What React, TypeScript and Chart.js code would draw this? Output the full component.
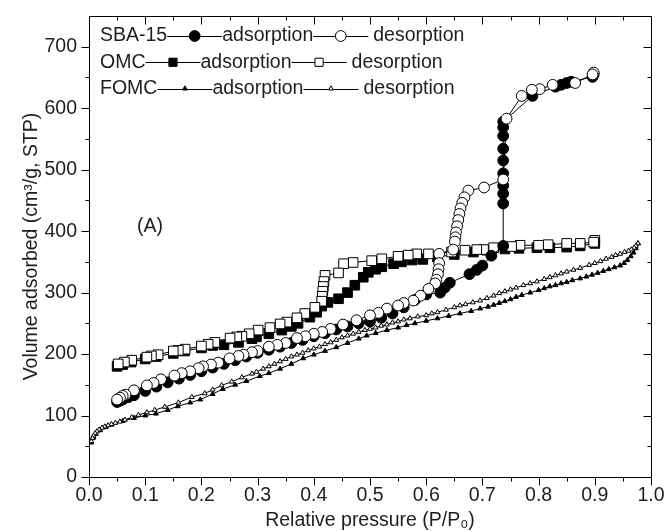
import React, { useEffect, useRef } from 'react';
import { Chart, registerables } from 'chart.js';
import { drawPoint } from 'chart.js/helpers';

Chart.register(...registerables);

const FONT = "'Liberation Sans', Arial, Helvetica, sans-serif";
const FS = 19.5;
const TXT = '#1e1e1e';

// ---------- data (P/P0, volume cm3/g STP) ----------
const sbaAdsP = [0.05,0.055,0.06,0.07,0.08,0.10,0.12,0.14,0.16,0.18,0.20,0.22,0.24,0.26,0.28,0.30,0.32,0.34,0.36,0.38,0.40,0.42,0.44,0.46,0.48,0.50,0.52,0.54,0.56,0.58,0.60,0.625,0.633,0.642,0.677,0.69,0.70,0.716,0.737,0.737,0.737,0.737,0.737,0.737,0.737,0.737,0.737,0.737,0.789,0.83,0.84,0.85,0.858,0.896,0.898];
const sbaAdsV = [122,124,126,130,133,140,147,154,160,166,172,178,184,190,196,202,207,212,218,223,229,234,240,245,250,253,259,266,276,288,297,300,308,316,330,337,344,360,376,445,461,474,494,515,534,555,569,578,620,635,638,641,643,651,655];

const sbaDesP = [0.898,0.896,0.865,0.825,0.802,0.788,0.77,0.743,0.737,0.703,0.675,0.668,0.664,0.661,0.659,0.657,0.655,0.653,0.652,0.651,0.648,0.623,0.623,0.622,0.621,0.618,0.616,0.604,0.59,0.577,0.56,0.55,0.53,0.515,0.50,0.476,0.452,0.43,0.415,0.40,0.385,0.37,0.35,0.335,0.32,0.30,0.29,0.275,0.266,0.25,0.23,0.217,0.203,0.195,0.18,0.165,0.152,0.128,0.115,0.103,0.08,0.065,0.06,0.055,0.05];
const sbaDesV = [658,655,641,638,631,630,620,583,484,471,466,455,446,437,428,418,408,398,390,383,370,363,348,338,330,321,315,306,295,287,283,279,274,267,263,255,248,241,236,233,229,226,218,215,212,205,203,199,197,193,186,183,180,177,172,169,165,159,153,149,141,134,132,129,126];

const omcAdsP = [0.05,0.06,0.075,0.10,0.12,0.15,0.17,0.20,0.22,0.24,0.266,0.29,0.298,0.32,0.343,0.36,0.372,0.393,0.405,0.414,0.425,0.444,0.46,0.473,0.488,0.497,0.51,0.521,0.542,0.556,0.575,0.594,0.62,0.65,0.684,0.708,0.74,0.765,0.797,0.82,0.85,0.874,0.9];
const omcAdsV = [180,183,187,192,196,201,205,210,214,215,219,225,228,233,239,245,250,260,268,278,284,290,300,312,325,333,338,342,347,350,353,354,358,362,366,369,371,372,373,373,374,376,380];

const omcDesP = [0.9,0.898,0.874,0.85,0.817,0.80,0.767,0.752,0.72,0.702,0.69,0.669,0.645,0.604,0.583,0.568,0.55,0.521,0.503,0.47,0.453,0.444,0.42,0.418,0.417,0.416,0.415,0.414,0.402,0.384,0.37,0.352,0.34,0.322,0.301,0.285,0.272,0.263,0.251,0.224,0.212,0.2,0.171,0.159,0.15,0.123,0.111,0.103,0.076,0.063,0.052];
const omcDesV = [385,382,380,380,378,377,377,375,373,370,370,369,366,363,363,361,359,355,352,349,347,332,328,318,310,302,294,286,276,266,259,252,249,243,239,233,229,228,226,219,216,213,208,206,205,199,197,195,190,187,184];

const fomcAdsP = [0.004,0.008,0.012,0.02,0.03,0.04,0.06,0.08,0.10,0.119,0.14,0.158,0.18,0.198,0.22,0.238,0.26,0.28,0.304,0.32,0.34,0.36,0.381,0.40,0.42,0.44,0.46,0.48,0.494,0.51,0.53,0.55,0.565,0.58,0.60,0.62,0.64,0.66,0.68,0.696,0.71,0.72,0.73,0.74,0.75,0.76,0.77,0.785,0.80,0.81,0.82,0.83,0.84,0.85,0.86,0.874,0.885,0.895,0.905,0.915,0.925,0.935,0.945,0.952,0.958,0.964,0.969,0.973,0.977];
const fomcAdsV = [56,64,70,76,81,85,91,96,100,103,109,115,121,126,135,143,150,156,164,169,176,184,193,199,205,211,218,225,230,234,239,243,247,250,254,258,262,266,270,274,277,280,283,286,289,293,296,300,304,307,310,312,315,317,320,323,326,329,332,335,338,341,344,348,353,359,365,372,380];

const fomcDesP = [0.977,0.973,0.97,0.965,0.96,0.953,0.945,0.937,0.93,0.92,0.91,0.9,0.89,0.874,0.862,0.85,0.84,0.83,0.82,0.81,0.797,0.785,0.773,0.76,0.75,0.74,0.73,0.72,0.708,0.696,0.683,0.67,0.66,0.65,0.635,0.62,0.61,0.60,0.585,0.571,0.56,0.55,0.54,0.53,0.52,0.51,0.50,0.491,0.48,0.47,0.46,0.45,0.44,0.43,0.42,0.41,0.40,0.39,0.38,0.37,0.36,0.35,0.34,0.33,0.32,0.31,0.298,0.29,0.272,0.254,0.236,0.22,0.206,0.183,0.159,0.135,0.117,0.103,0.088,0.076,0.064,0.055,0.047,0.04,0.034,0.028,0.023,0.018,0.014,0.011,0.008,0.006,0.004];
const fomcDesV = [380,376,373,370,368,366,363,361,358,355,351,348,345,340,337,334,331,328,325,322,318,315,312,308,305,302,299,295,291,287,284,281,279,276,272,268,266,263,261,258,256,253,251,248,246,243,241,239,236,233,230,227,223,219,216,212,209,206,202,199,196,192,188,184,180,176,171,168,162,155,149,142,136,130,121,114,109,105,101,97,93,90,88,86,84,82,80,77,74,71,67,63,58];

const xTickValues = [0,0.1,0.2,0.3,0.4,0.5,0.6,0.7,0.8,0.9,1.0];
const yTickValues = [0,100,200,300,400,500,600,700];

const legendNames = ['SBA-15', 'OMC', 'FOMC'];
const legendWords = ['adsorption', 'desorption'];
const panelLabel = '(A)';
const xTitle = 'Relative pressure (P/P\u2080)';
const yTitle = 'Volume adsorbed (cm\u00B3/g, STP)';

// ---------- styles ----------
const markerStyles = [
  { pointStyle: 'circle', radius: 5.4 },
  { pointStyle: 'rect', radius: 6.8 },
  { pointStyle: 'triangle', radius: 2.8 },
];

const zip = (p: number[], v: number[]) => p.map((x, i) => ({ x, y: v[i] }));

function makeDs(label: string, p: number[], v: number[], m: any, open: boolean) {
  return {
    label,
    data: zip(p, v),
    showLine: true,
    borderColor: '#000',
    borderWidth: 1,
    pointStyle: m.pointStyle,
    pointRadius: m.radius,
    pointHoverRadius: m.radius,
    pointBorderWidth: 1,
    pointBorderColor: '#000',
    pointBackgroundColor: open ? '#fff' : '#000',
    backgroundColor: open ? '#fff' : '#000',
    fill: false,
    tension: 0,
  };
}

const framePlugin = {
  id: 'frameTicks',
  afterDraw(chart: any) {
    const { ctx, chartArea, scales } = chart;
    const { left, right, top, bottom } = chartArea;
    const xs = scales.x;
    const ys = scales.y;
    const a = (v: number) => Math.round(v) + 0.5;
    ctx.save();
    ctx.strokeStyle = '#000';
    ctx.lineWidth = 1;
    ctx.beginPath();
    ctx.rect(a(left), a(top), Math.round(right) - Math.round(left), Math.round(bottom) - Math.round(top));
    ctx.stroke();
    ctx.beginPath();
    for (let i = 0; i <= 20; i++) {
      const px = a(xs.getPixelForValue(i * 0.05));
      const len = i % 2 === 0 ? 8 : 4;
      ctx.moveTo(px, a(bottom));
      ctx.lineTo(px, a(bottom) + len);
      ctx.moveTo(px, a(top));
      ctx.lineTo(px, a(top) + len);
    }
    for (let i = 0; i <= 14; i++) {
      const py = a(ys.getPixelForValue(i * 50));
      const len = i % 2 === 0 ? 8 : 4;
      ctx.moveTo(a(left), py);
      ctx.lineTo(a(left) - len, py);
      ctx.moveTo(a(right), py);
      ctx.lineTo(a(right) - len, py);
    }
    ctx.stroke();

    // legend
    ctx.font = `${FS}px ${FONT}`;
    ctx.textBaseline = 'middle';
    ctx.textAlign = 'left';
    const seg = 55;
    legendNames.forEach((name, r) => {
      const y = 36 + r * 26.3;
      let x = 100;
      ctx.fillStyle = TXT;
      ctx.fillText(name, x, y);
      x += ctx.measureText(name).width;
      legendWords.forEach((w, k) => {
        ctx.strokeStyle = '#000';
        ctx.lineWidth = 1;
        ctx.beginPath();
        ctx.moveTo(x, a(y));
        ctx.lineTo(x + seg, a(y));
        ctx.stroke();
        const m = markerStyles[r];
        ctx.fillStyle = k === 0 ? '#000' : '#fff';
        ctx.strokeStyle = '#000';
        ctx.lineWidth = 1;
        drawPoint(ctx, { pointStyle: m.pointStyle, radius: m.radius * (r === 1 ? 0.85 : 1), rotation: 0, borderWidth: 1 } as any, x + seg / 2, y);
        x += seg + (k === 1 ? 5 : 0);
        ctx.fillStyle = TXT;
        ctx.fillText(w, x, y);
        x += ctx.measureText(w).width;
      });
    });
    ctx.fillStyle = TXT;
    ctx.fillText(panelLabel, 137, 227);
    ctx.restore();
  },
};

export default function App() {
  const ref = useRef<HTMLCanvasElement | null>(null);
  useEffect(() => {
    if (!ref.current) return;
    const datasets = [
      makeDs('SBA-15 desorption', sbaDesP, sbaDesV, markerStyles[0], true),
      makeDs('SBA-15 adsorption', sbaAdsP, sbaAdsV, markerStyles[0], false),
      makeDs('OMC desorption', omcDesP, omcDesV, markerStyles[1], true),
      makeDs('OMC adsorption', omcAdsP, omcAdsV, markerStyles[1], false),
      makeDs('FOMC desorption', fomcDesP, fomcDesV, markerStyles[2], true),
      makeDs('FOMC adsorption', fomcAdsP, fomcAdsV, markerStyles[2], false),
    ];
    const font = { family: FONT, size: FS };
    const chart = new Chart(ref.current, {
      type: 'scatter',
      data: { datasets } as any,
      plugins: [framePlugin],
      options: {
        animation: false,
        responsive: true,
        maintainAspectRatio: false,
        events: [],
        layout: { padding: { left: 0, right: 15, top: 16, bottom: 0 } },
        plugins: { legend: { display: false }, tooltip: { enabled: false } },
        scales: {
          x: {
            type: 'linear',
            min: 0,
            max: 1,
            afterBuildTicks: (s: any) => { s.ticks = xTickValues.map((v) => ({ value: v })); },
            ticks: {
              font,
              color: TXT,
              padding: -1,
              maxRotation: 0,
              autoSkip: false,
              callback: (v: any) => Number(v).toFixed(1),
            },
            grid: { display: true, drawOnChartArea: false, drawTicks: true, tickLength: 8, color: 'rgba(0,0,0,0)', tickColor: 'rgba(0,0,0,0)' },
            border: { display: false },
            title: { display: true, text: xTitle, font, color: TXT, padding: { top: 0, bottom: 0 } },
            afterFit: (s: any) => { s.height = 55; },
          },
          y: {
            type: 'linear',
            min: 0,
            max: 750,
            afterBuildTicks: (s: any) => { s.ticks = yTickValues.map((v) => ({ value: v })); },
            ticks: { font, color: TXT, padding: 4, autoSkip: false, callback: (v: any) => String(v) },
            grid: { display: true, drawOnChartArea: false, drawTicks: true, tickLength: 8, color: 'rgba(0,0,0,0)', tickColor: 'rgba(0,0,0,0)' },
            border: { display: false },
            title: { display: true, text: yTitle, font, color: TXT, padding: { top: 20, bottom: 0 } },
            afterFit: (s: any) => { s.width = 89; },
          },
        },
      } as any,
    });
    return () => chart.destroy();
  }, []);
  return (
    <div style={{ position: 'fixed', left: 0, top: 0, width: 666, height: 532, background: '#fff' }}>
      <canvas ref={ref} />
    </div>
  );
}
